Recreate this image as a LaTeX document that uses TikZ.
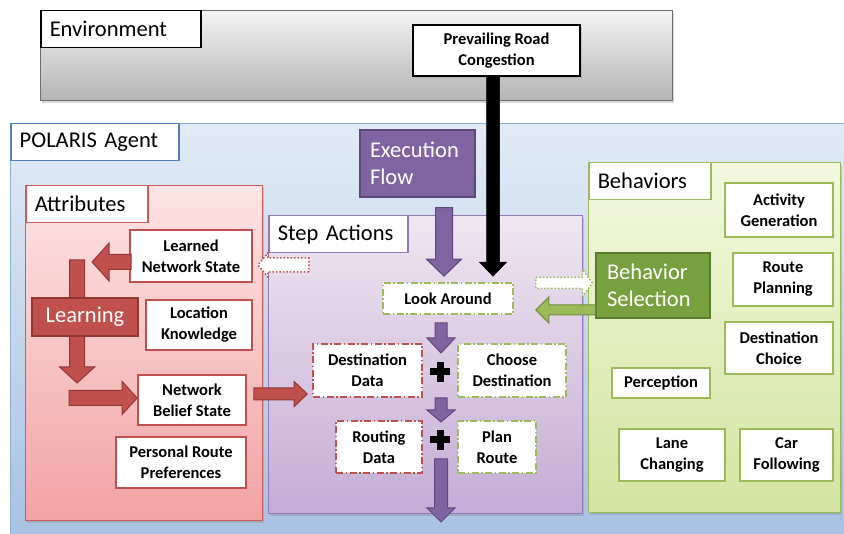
\documentclass[tikz,border=0pt]{standalone}
\usepackage{fontspec}
\setmainfont{Carlito}
\usetikzlibrary{positioning,calc,shadows}

\definecolor{envtop}{HTML}{F4F4F4}
\definecolor{envbot}{HTML}{B4B4B4}
\definecolor{envline}{HTML}{6E6E6E}
\definecolor{agenttop}{HTML}{E1EBF6}
\definecolor{agentbot}{HTML}{A7C1E2}
\definecolor{agentline}{HTML}{8CB0DC}
\definecolor{agentlbl}{HTML}{4F81BD}
\definecolor{attrtop}{HTML}{FDE4E4}
\definecolor{attrbot}{HTML}{F2A3A3}
\definecolor{attrline}{HTML}{D05A58}
\definecolor{steptop}{HTML}{F0E6F1}
\definecolor{stepbot}{HTML}{C4ACD5}
\definecolor{stepline}{HTML}{9478B8}
\definecolor{behtop}{HTML}{F3F8DF}
\definecolor{behbot}{HTML}{D2E4A0}
\definecolor{behline}{HTML}{9BBB59}
\definecolor{redF}{HTML}{C0504D}
\definecolor{redD}{HTML}{943634}
\definecolor{purpleF}{HTML}{8064A2}
\definecolor{purpleD}{HTML}{5F497A}
\definecolor{greenF}{HTML}{9BBB59}
\definecolor{greenD}{HTML}{71893F}
\definecolor{bsF}{HTML}{77A03E}
\definecolor{bsD}{HTML}{5A7A2E}

\begin{document}
\begin{tikzpicture}
[
x=1pt, y=-1pt,
box-c/.style={rectangle, draw, line width=1.2pt, inner sep=0pt, anchor=north west},
shade-c/.style={drop shadow={opacity=0.3, shadow xshift=1.5pt, shadow yshift=-2pt}},
label-a/.style={rectangle, draw, fill=white, line width=1.5pt, anchor=north west, inner xsep=9pt, inner ysep=0pt, minimum height=37pt, align=left, font=\fontsize{22.5}{26}\selectfont},
item-a/.style={rectangle, draw, fill=white, line width=1.8pt, inner sep=0pt, align=center, font=\fontsize{16.5}{21}\selectfont\bfseries},
item-red/.style={item-a, draw=redF},
item-green/.style={item-a, draw=behline},
act-a/.style={item-a, line width=1.6pt, dash pattern=on 7pt off 2.5pt on 1.5pt off 2.5pt},
act-red/.style={act-a, draw=redF},
act-green/.style={act-a, draw=behline},
flow-a/.style={rectangle, draw, line width=1.2pt, text=white, inner xsep=10pt, inner ysep=0pt, align=left, font=\fontsize{22.5}{27}\selectfont},
plus-a/.style={line width=7pt},
arrow-block/.style n args={3}{to path={
  ($(\tikztostart)!#1!90:(\tikztotarget)$)
  -- ($(\tikztotarget)!#3!(\tikztostart)!#1!90:(\tikztotarget)$)
  -- ($(\tikztotarget)!#3!(\tikztostart)!#2!90:(\tikztotarget)$)
  -- (\tikztotarget)
  -- ($(\tikztotarget)!#3!(\tikztostart)!#2!-90:(\tikztotarget)$)
  -- ($(\tikztotarget)!#3!(\tikztostart)!#1!-90:(\tikztotarget)$)
  -- ($(\tikztostart)!#1!-90:(\tikztotarget)$) -- cycle}},
arrow-red/.style={fill=redF, draw=redD, line width=1pt},
arrow-purple/.style={fill=purpleF, draw=purpleD, line width=1pt},
arrow-green/.style={fill=greenF, draw=greenD, line width=1pt},
arrow-black/.style={fill=black, draw=black, line width=0.5pt},
arrow-dot-red/.style={fill=white, draw=redF, line width=1.5pt, dotted},
arrow-dot-green/.style={fill=white, draw=greenF, line width=1.5pt, dotted}
]
\path[use as bounding box, fill=white] (0,0) rectangle (844,534);

\node (env)       [box-c, shade-c, draw=envline, top color=envtop, bottom color=envbot, minimum width=632pt, minimum height=90pt] at (40,10) {};
\node (env-lbl)   [label-a, draw=black, text width=142pt] at (env.north west) {Environment};
\node (prc)       [item-a, shade-c, draw=black, minimum width=167pt, minimum height=51pt] at (496.5,50.5) {Prevailing Road\\Congestion};

\node (agent)     [box-c, shade-c, draw=agentline, top color=agenttop, bottom color=agentbot, minimum width=840pt, minimum height=420pt] at (10,123) {};
\node (agent-lbl) [label-a, draw=agentlbl, text width=150pt] at (agent.north west) {POLARIS Agent};

\node (attr)      [box-c, shade-c, draw=attrline, top color=attrtop, bottom color=attrbot, minimum width=237pt, minimum height=335pt] at (25,185) {};
\node (attr-lbl)  [label-a, draw=attrline, text width=104pt] at (attr.north west) {Attributes};

\node (step)      [box-c, shade-c, draw=stepline, top color=steptop, bottom color=stepbot, minimum width=314pt, minimum height=298pt] at (268,215) {};
\node (step-lbl)  [label-a, draw=stepline, text width=121pt] at (step.north west) {Step Actions};

\node (beh)       [box-c, shade-c, draw=behline, top color=behtop, bottom color=behbot, minimum width=252pt, minimum height=350pt] at (588,162) {};
\node (beh-lbl)   [label-a, draw=behline, text width=104pt] at (beh.north west) {Behaviors};

\node (exf)       [flow-a, fill=purpleF, draw=purpleD, text width=95pt, minimum height=67pt] at (417.5,163.5) {Execution\\Flow};

\node (lns)       [item-red, minimum width=122pt, minimum height=52pt] at (191,256)   {Learned\\Network State};
\node (lk)        [item-red, minimum width=106pt, minimum height=50pt] at (199,325)   {Location\\Knowledge};
\node (nbs)       [item-red, minimum width=108pt, minimum height=50pt] at (192,400)   {Network\\Belief State};
\node (prp)       [item-red, minimum width=130pt, minimum height=51pt] at (181,462.5) {Personal Route\\Preferences};

\node (la)        [act-green, minimum width=130pt, minimum height=31pt] at (448,298.5) {Look Around};
\node (dd)        [act-red,   minimum width=109pt, minimum height=53pt] at (367.5,370.5) {Destination\\Data};
\node (cd)        [act-green, minimum width=108pt, minimum height=53pt] at (512,370.5)   {Choose\\Destination};
\node (rd)        [act-red,   minimum width=86pt,  minimum height=52pt] at (379,447)     {Routing\\Data};
\node (pr)        [act-green, minimum width=78pt,  minimum height=52pt] at (497,447)     {Plan\\Route};
\coordinate (plus-1) at (440,372);
\coordinate (plus-2) at (440,440);
\draw[plus-a] (plus-1) +(-10,0) -- +(10,0) +(0,-10) -- +(0,10);
\draw[plus-a] (plus-2) +(-10,0) -- +(10,0) +(0,-10) -- +(0,10);

\node (ag)        [item-green, minimum width=108pt, minimum height=54pt] at (779,210)   {Activity\\Generation};
\node (rp)        [item-green, minimum width=100pt, minimum height=53pt] at (783,279.5) {Route\\Planning};
\node (dc)        [item-green, minimum width=108pt, minimum height=52pt] at (779,348)   {Destination\\Choice};
\node (perc)      [item-green, minimum width=98pt,  minimum height=30pt] at (661,383)   {Perception};
\node (lc)        [item-green, minimum width=106pt, minimum height=52pt] at (672,455)   {Lane\\Changing};
\node (cf)        [item-green, minimum width=93pt,  minimum height=52pt] at (786.5,455) {Car\\Following};
\node (bs)        [flow-a, fill=bsF, draw=bsD, text width=92pt, inner xsep=11pt, minimum height=65pt] at (653,285.5) {Behavior\\Selection};

\coordinate (blk-a)  at ($(prc.south)+(-3.5,0)$);
\coordinate (blk-b)  at ($(la.north)+(45,-6)$);
\coordinate (exf-a)  at ($(exf.south)+(26.5,10)$);
\coordinate (exf-b)  at ($(la.north)+(-4,-6)$);
\coordinate (la-a)   at ($(la.south)+(-7,8)$);
\coordinate (la-b)   at ($(plus-1)+(1,-19)$);
\coordinate (p1-a)   at ($(plus-1)+(1,26)$);
\coordinate (p1-b)   at ($(plus-1)+(1,50)$);
\coordinate (p2-a)   at ($(plus-2)+(1,19)$);
\coordinate (p2-b)   at ($(plus-2)+(1,82)$);
\coordinate (lns-a)  at ($(lns.west)+(2,6)$);
\coordinate (lns-b)  at ($(lns.west)+(-37,6)$);
\coordinate (lrn-a)  at ($(lns.west)+(-52,4)$);
\coordinate (lrn-b)  at ($(nbs.west)+(-60,-17)$);
\coordinate (nbs-a)  at ($(nbs.west)+(-68,-2)$);
\coordinate (nbs-b)  at ($(nbs.west)+(0,-2)$);
\coordinate (dd-a)   at ($(nbs.east)+(7,-6)$);
\coordinate (dd-b)   at ($(dd.west)+(-5,23.5)$);
\coordinate (dot-ra) at ($(lns.east)+(56,9)$);
\coordinate (dot-rb) at ($(lns.east)+(5,9)$);
\coordinate (dot-ga) at ($(la.east)+(22,-15.5)$);
\coordinate (dot-gb) at ($(bs.west)+(-3,-2.5)$);
\coordinate (bs-a)   at ($(bs.west)+(0,24.5)$);
\coordinate (bs-b)   at ($(la.east)+(22,11.5)$);

\filldraw[arrow-black]     (blk-a)  to[arrow-block={6.5pt}{13.5pt}{14pt}] (blk-b);
\filldraw[arrow-purple]    (exf-a)  to[arrow-block={8.5pt}{17.5pt}{17pt}] (exf-b);
\filldraw[arrow-purple]    (la-a)   to[arrow-block={6pt}{14pt}{15pt}]     (la-b);
\filldraw[arrow-purple]    (p1-a)   to[arrow-block={6pt}{14pt}{12pt}]     (p1-b);
\filldraw[arrow-purple]    (p2-a)   to[arrow-block={6.5pt}{14pt}{14pt}]   (p2-b);
\filldraw[arrow-red]       (lns-a)  to[arrow-block={7.5pt}{19pt}{17pt}]   (lns-b);
\filldraw[arrow-red]       (lrn-a)  to[arrow-block={7.5pt}{17.5pt}{16pt}] (lrn-b);
\filldraw[arrow-red]       (nbs-a)  to[arrow-block={7.5pt}{16.5pt}{15pt}] (nbs-b);
\filldraw[arrow-red]       (dd-a)   to[arrow-block={6pt}{12.5pt}{13pt}]   (dd-b);
\filldraw[arrow-dot-red]   (dot-ra) to[arrow-block={7pt}{12pt}{10pt}]     (dot-rb);
\filldraw[arrow-dot-green] (dot-ga) to[arrow-block={5.5pt}{13.5pt}{10pt}] (dot-gb);
\filldraw[arrow-green]     (bs-a)   to[arrow-block={5pt}{13pt}{13pt}]     (bs-b);

\node (learn)     [flow-a, fill=redF, draw=redD, minimum width=106pt, minimum height=38pt, align=center] at (85,317) {Learning};
\end{tikzpicture}
\end{document}
